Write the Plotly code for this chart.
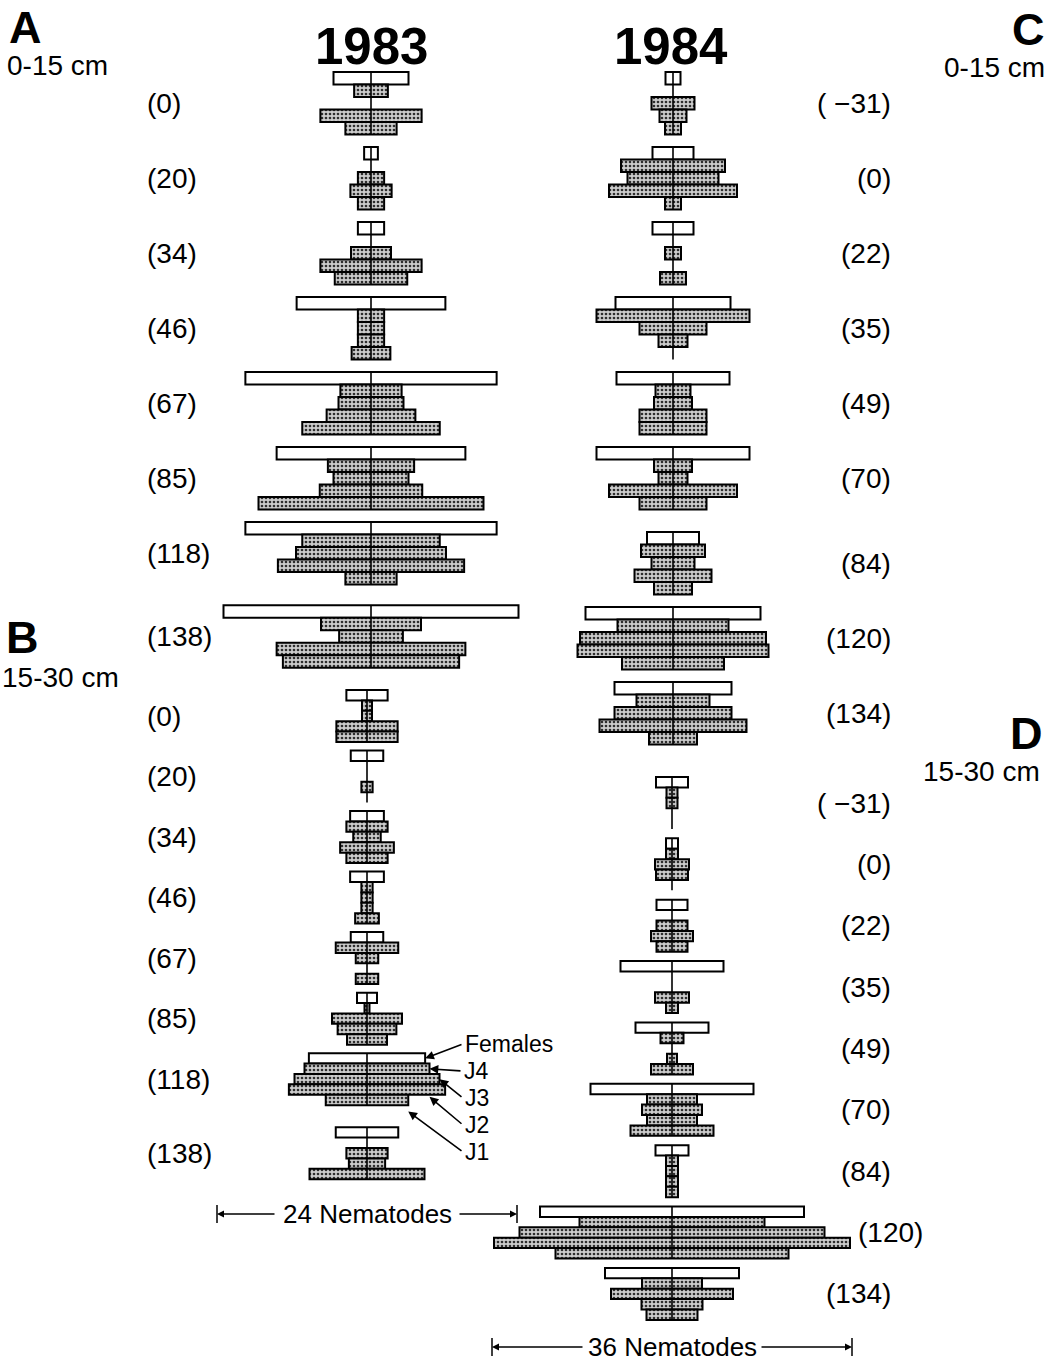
import plotly.graph_objects as go

W, H = 1056, 1363

# ---------------- data (nematode counts per life stage) ----------------
stages = ["Females", "J4", "J3", "J2", "J1"]
days_1983 = [0, 20, 34, 46, 67, 85, 118, 138]
days_1984 = [-31, 0, 22, 35, 49, 70, 84, 120, 134]

# 1983, 0-15 cm (A)
females_83_a = [6.0, 1.1, 2.1, 11.9, 20.1, 15.1, 20.1, 23.6]
j4_83_a = [2.7, 0, 0, 2.1, 4.9, 6.9, 11.0, 8.0]
j3_83_a = [0, 2.1, 3.2, 2.1, 5.2, 6.0, 12.0, 5.1]
j2_83_a = [8.1, 3.3, 8.1, 2.1, 7.1, 8.2, 14.9, 15.1]
j1_83_a = [4.1, 2.1, 5.8, 3.1, 11.0, 18.0, 4.1, 14.1]

# 1983, 15-30 cm (B)
females_83_b = [3.3, 2.6, 2.7, 2.7, 2.6, 1.6, 9.3, 5.0]
j4_83_b = [0.8, 0, 3.3, 0.9, 5.0, 0.4, 10.0, 0]
j3_83_b = [0.8, 0, 2.2, 0.9, 1.8, 5.6, 11.6, 3.3]
j2_83_b = [4.9, 0.9, 4.3, 0.9, 0, 4.7, 12.5, 2.9]
j1_83_b = [4.9, 0, 3.3, 1.9, 1.8, 3.2, 6.6, 9.2]

# 1984, 0-15 cm (C)
females_84_c = [1.5, 4.1, 4.1, 11.5, 11.3, 15.3, 5.2, 17.5, 11.7]
j4_84_c = [0, 10.4, 0, 15.3, 3.5, 3.8, 6.4, 11.1, 7.3]
j3_84_c = [4.3, 9.1, 1.6, 6.7, 3.8, 2.9, 4.3, 18.6, 11.7]
j2_84_c = [2.7, 12.8, 0, 2.9, 6.7, 12.8, 7.7, 19.1, 14.7]
j1_84_c = [1.6, 1.6, 2.6, 0, 6.7, 6.7, 3.8, 10.2, 4.8]

# 1984, 15-30 cm (D)
females_84_d = [3.2, 1.2, 3.1, 10.3, 7.3, 16.3, 3.3, 26.4, 13.4]
j4_84_d = [1.1, 1.2, 0, 0, 2.3, 5.0, 1.2, 18.5, 6.0]
j3_84_d = [1.1, 3.4, 3.1, 0, 0, 6.0, 1.2, 30.5, 12.2]
j2_84_d = [0, 3.2, 4.2, 3.4, 1.0, 5.0, 1.2, 35.6, 6.1]
j1_84_d = [0, 0, 3.1, 1.2, 4.2, 8.3, 1.2, 23.3, 5.1]

scale_1983 = 24
scale_1984 = 36

# ---------------- layout of the four panels (pixels) ----------------
panels = [
    dict(days=days_1983, data=[females_83_a, j4_83_a, j3_83_a, j2_83_a, j1_83_a],
         cx=371, ppu=12.5, p0=72, row=12.5, slot=6.0,
         extra=[0, 0, 0, 0, 0, 0, 0, 0.65], side="left"),
    dict(days=days_1983, data=[females_83_b, j4_83_b, j3_83_b, j2_83_b, j1_83_b],
         cx=367, ppu=12.5, p0=690, row=10.4, slot=5.82,
         extra=[0, 0, 0, 0, 0, 0, 0, 1.3], side="left"),
    dict(days=days_1984, data=[females_84_c, j4_84_c, j3_84_c, j2_84_c, j1_84_c],
         cx=673, ppu=10.0, p0=72, row=12.5, slot=6.0,
         extra=[0, 0, 0, 0, 0, 0, 0.8, 0.8, 0.8], side="right"),
    dict(days=days_1984, data=[females_84_d, j4_84_d, j3_84_d, j2_84_d, j1_84_d],
         cx=672, ppu=10.0, p0=777, row=10.4, slot=5.9,
         extra=[0, 0, 0, 0, 0, 0, 0, 0, 0], side="right"),
]

FONT = "Liberation Sans, Arial, Helvetica, sans-serif"


def xp(px):
    return px / W


def yp(py):
    return 1 - py / H


fig = go.Figure()
layout_axes = {}
annotations = []
shapes = []

for n, p in enumerate(panels, start=1):
    xa = "x" if n == 1 else f"x{n}"
    ya = "y" if n == 1 else f"y{n}"
    xkey = "xaxis" if n == 1 else f"xaxis{n}"
    ykey = "yaxis" if n == 1 else f"yaxis{n}"
    layout_axes[xkey] = dict(domain=[0, 1], range=[-p["cx"] / p["ppu"], (W - p["cx"]) / p["ppu"]],
                             visible=False, fixedrange=True, anchor=ya)
    layout_axes[ykey] = dict(domain=[0, 1], range=[(H - p["p0"]) / p["row"], -p["p0"] / p["row"]],
                             visible=False, fixedrange=True, anchor=xa)
    p["xa"], p["ya"] = xa, ya
    tops = [k * p["slot"] + p["extra"][k] for k in range(len(p["days"]))]
    p["tops"] = tops

    for r, series in enumerate(p["data"]):
        ys, xs, bs = [], [], []
        for k, v in enumerate(series):
            if v > 0:
                ys.append(tops[k] + r + 0.5)
                xs.append(v)
                bs.append(-v / 2)
        if r == 0:
            marker = dict(color="white", line=dict(color="black", width=2))
        else:
            marker = dict(color="#c2c2c2", line=dict(color="black", width=2),
                          pattern=dict(shape=".", fgcolor="#2e2e2e", bgcolor="#cccccc",
                                       size=4, solidity=0.35, fillmode="replace"))
        fig.add_trace(go.Bar(orientation="h", x=xs, base=bs, y=ys, width=1,
                             marker=marker, xaxis=xa, yaxis=ya, hoverinfo="skip",
                             name=stages[r], showlegend=False))

    # centre lines
    lx, ly = [], []
    for t in tops:
        lx += [0, 0, None]
        ly += [t, t + 5, None]
    fig.add_trace(go.Scatter(x=lx, y=ly, mode="lines", line=dict(color="black", width=1.6),
                             xaxis=xa, yaxis=ya, hoverinfo="skip", showlegend=False))

    # day labels
    for k, d in enumerate(p["days"]):
        txt = f"( \u2212{abs(d)})" if d < 0 else f"({d})"
        ymid = tops[k] + 2.5
        if p["side"] == "left":
            annotations.append(dict(text=txt, x=xp(145), xref="paper", y=ymid, yref=ya,
                                    xanchor="left", yanchor="middle", showarrow=False,
                                    font=dict(family=FONT, size=28, color="black")))
        else:
            maxw = max(s[k] for s in p["data"])
            edge = p["cx"] + maxw * p["ppu"] / 2
            if edge + 6 > 893 - 75:
                annotations.append(dict(text=txt, x=xp(edge + 6), xref="paper", y=ymid, yref=ya,
                                        xanchor="left", yanchor="middle", showarrow=False,
                                        font=dict(family=FONT, size=28, color="black")))
            else:
                annotations.append(dict(text=txt, x=xp(893), xref="paper", y=ymid, yref=ya,
                                        xanchor="right", yanchor="middle", showarrow=False,
                                        font=dict(family=FONT, size=28, color="black")))

# ---------------- titles and panel letters ----------------
def txt(text, px, py, size, anchor="center", family=FONT, bold=False, pad=1):
    annotations.append(dict(text=f"<b>{text}</b>" if bold else text, x=xp(px), y=yp(py),
                            xref="paper", yref="paper", xanchor=anchor, yanchor="middle",
                            showarrow=False, borderpad=pad,
                            font=dict(family=family, size=size, color="black")))

txt("1983", 371, 46, 51, bold=True)
txt("1984", 671, 46, 51, bold=True)
txt("A", 7, 27, 45, anchor="left", bold=True)
txt("0-15 cm", 5, 65, 28, anchor="left")
txt("C", 1047, 30, 45, anchor="right", bold=True)
txt("0-15 cm", 1047, 68, 28, anchor="right")
txt("B", 4, 637, 45, anchor="left", bold=True)
txt("15-30 cm", 0, 677, 28, anchor="left")
txt("D", 1045, 733, 45, anchor="right", bold=True)
txt("15-30 cm", 1042, 772, 28, anchor="right")

# ---------------- stage key (arrows into 1983, 15-30 cm, day 118) ----------------
pb = panels[1]
kk = pb["days"].index(118)
t0 = pb["tops"][kk]
def bx(px):
    return (px - pb["cx"]) / pb["ppu"]
def by(py):
    return (py - pb["p0"]) / pb["row"]

key = [
    ("Females", pb["data"][0][kk] / 2, t0 + 0.5, 463, 1044),
    ("J4", pb["data"][1][kk] / 2, t0 + 1.5, 462, 1071),
    ("J3", pb["data"][2][kk] / 2, t0 + 2.5, 463, 1098),
    ("J2", pb["data"][3][kk] * 0.4, t0 + 4.2, 463, 1125),
    ("J1", pb["data"][4][kk] / 2, t0 + 5.6, 463, 1152),
]
for name, hx, hy, tx, ty in key:
    annotations.append(dict(text="", x=hx, y=hy, xref=pb["xa"], yref=pb["ya"],
                            ax=bx(tx), ay=by(ty), axref=pb["xa"], ayref=pb["ya"],
                            showarrow=True, arrowhead=2, arrowsize=1.1, arrowwidth=1.6,
                            arrowcolor="black"))
    txt(name, tx + 1, ty, 23, anchor="left", pad=0)

# ---------------- scale bars ----------------
def scale_bar(p, count, py, text_half):
    half = count / 2
    annotations.append(dict(text=f"{count} Nematodes", x=0, xref=p["xa"], y=yp(py), yref="paper",
                            xanchor="center", yanchor="middle", showarrow=False,
                            font=dict(family=FONT, size=26, color="black")))
    for sgn in (-1, 1):
        annotations.append(dict(text="", x=sgn * half, xref=p["xa"], y=yp(py), yref="paper",
                                ax=-sgn * (half * p["ppu"] - text_half - 3), ay=0,
                                showarrow=True, arrowhead=2, arrowsize=1.0, arrowwidth=1.4,
                                arrowcolor="black"))
        shapes.append(dict(type="line", xref=p["xa"], yref="paper", x0=sgn * half, x1=sgn * half,
                           y0=yp(py - 9), y1=yp(py + 9), line=dict(color="black", width=1.5)))

scale_bar(panels[1], scale_1983, 1214, 88)
scale_bar(panels[3], scale_1984, 1347, 85)

fig.update_layout(
    width=W, height=H, margin=dict(l=0, r=0, t=0, b=0),
    paper_bgcolor="white", plot_bgcolor="rgba(0,0,0,0)",
    barmode="overlay", showlegend=False,
    annotations=annotations, shapes=shapes,
    **layout_axes,
)

fig.write_html("out.html", config={"displayModeBar": False},
               post_script="document.body.style.margin='0px';")
